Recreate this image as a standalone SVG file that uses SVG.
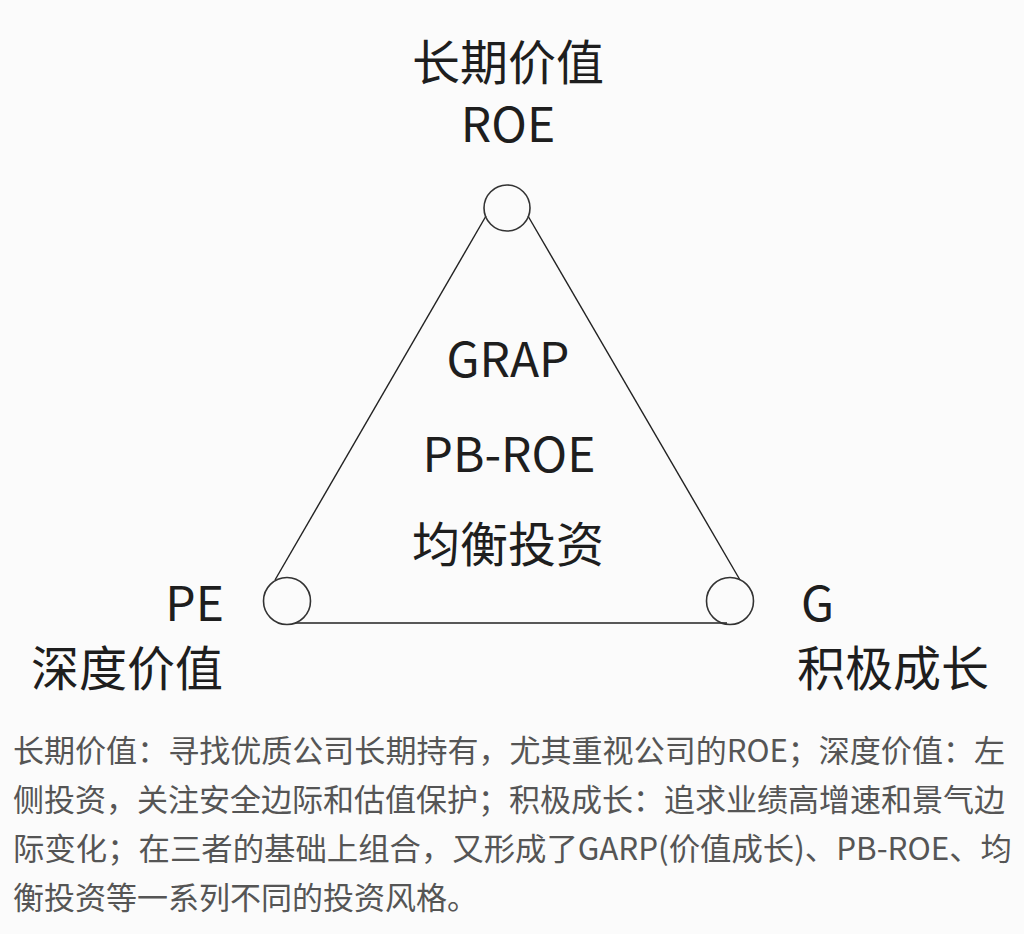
<svg xmlns="http://www.w3.org/2000/svg" width="1024" height="934" viewBox="0 0 1024 934">
  <style>
    .t { font-family: "Noto Sans CJK SC", "Noto Sans", sans-serif; fill: #1e1e1e; font-size: 48px; }
    .p { font-family: "Noto Sans CJK SC", "Noto Sans", sans-serif; fill: #555555; font-size: 31px; }
    .n { fill: none; stroke: #333333; stroke-width: 1.6; }
    .c { fill: none; stroke: #222222; stroke-width: 1.4; }
  </style>
  <rect width="1024" height="934" fill="#fbfbfb"/>
  <g id="connectors">
    <line class="c" x1="486" y1="216" x2="275" y2="580"/>
    <line class="c" x1="528" y1="216" x2="740" y2="580"/>
    <line class="c" x1="295" y1="623" x2="727" y2="623"/>
  </g>
  <g id="node-top">
    <circle class="n" cx="507" cy="208" r="23"/>
    <text class="t" x="508" y="80" text-anchor="middle">长期价值</text>
    <text class="t" x="508" y="142" text-anchor="middle">ROE</text>
  </g>
  <g id="node-left">
    <circle class="n" cx="287" cy="601" r="23.5"/>
    <text class="t" x="224" y="621" text-anchor="end">PE</text>
    <text class="t" x="31" y="686">深度价值</text>
  </g>
  <g id="node-right">
    <circle class="n" cx="730" cy="601" r="23.5"/>
    <text class="t" x="801" y="621">G</text>
    <text class="t" x="797" y="686">积极成长</text>
  </g>
  <g id="center">
    <text class="t" x="508" y="377" text-anchor="middle">GRAP</text>
    <text class="t" x="509" y="472" text-anchor="middle">PB-ROE</text>
    <text class="t" x="508" y="562" text-anchor="middle">均衡投资</text>
  </g>
  <g id="caption">
    <text class="p" x="13" y="762" textLength="992" lengthAdjust="spacingAndGlyphs">长期价值：寻找优质公司长期持有，尤其重视公司的ROE；深度价值：左</text>
    <text class="p" x="13" y="811" textLength="992" lengthAdjust="spacingAndGlyphs">侧投资，关注安全边际和估值保护；积极成长：追求业绩高增速和景气边</text>
    <text class="p" x="13" y="860" textLength="999" lengthAdjust="spacingAndGlyphs">际变化；在三者的基础上组合，又形成了GARP(价值成长)、PB-ROE、均</text>
    <text class="p" x="13" y="909">衡投资等一系列不同的投资风格。</text>
  </g>
</svg>
